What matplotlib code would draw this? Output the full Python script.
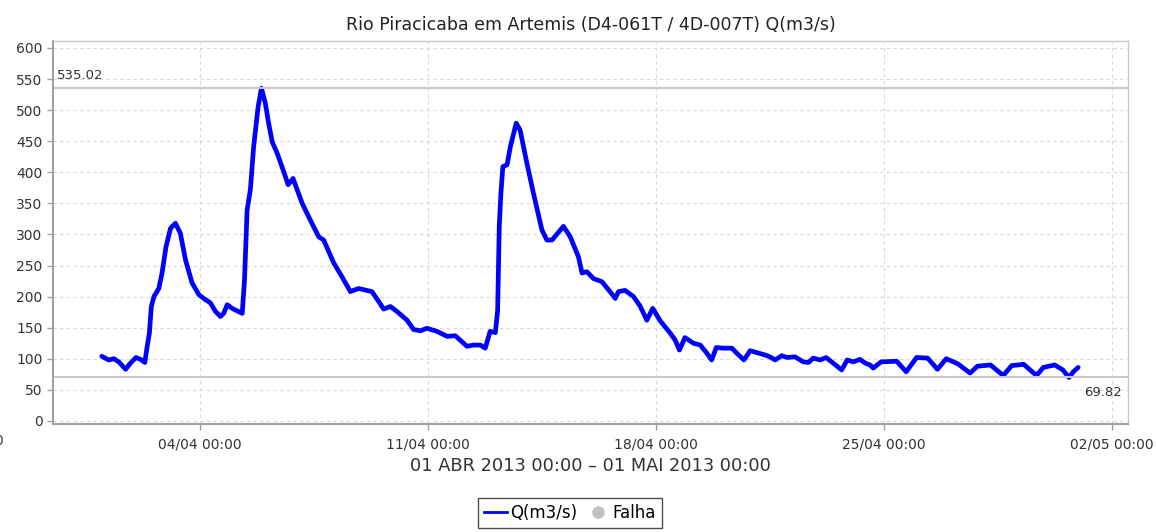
import pandas as pd
import matplotlib.pyplot as plt
import matplotlib.dates as mdates
from matplotlib.lines import Line2D

# Vazão horária - Rio Piracicaba em Artemis, abril de 2013
# dias decorridos desde 01/04/2013 00:00 e vazão em m3/s
dias = [0.0, 0.21, 0.37, 0.52, 0.73, 0.88, 1.05, 1.19, 1.32, 1.39, 1.46, 1.52,
        1.6, 1.75, 1.85, 1.97, 2.11, 2.26, 2.41, 2.57, 2.77, 2.98, 3.18, 3.33,
        3.49, 3.64, 3.74, 3.85, 4.0, 4.31,
        4.38, 4.46, 4.56, 4.66, 4.8, 4.9, 5.02, 5.12, 5.23, 5.38, 5.53, 5.72,
        5.87, 6.15, 6.4, 6.66, 6.81, 7.12, 7.37, 7.63, 7.88, 8.29, 8.5, 8.65,
        8.86, 9.06, 9.37, 9.57, 9.78, 9.98, 10.29, 10.6, 10.85, 11.21, 11.41,
        11.62, 11.77, 11.92, 12.08, 12.15, 12.2, 12.25, 12.31, 12.44, 12.54,
        12.72, 12.84, 13.05, 13.25, 13.51, 13.66, 13.82, 14.17, 14.38, 14.63,
        14.74, 14.89, 15.09, 15.35, 15.6, 15.76, 15.86, 16.06, 16.32, 16.52,
        16.73, 16.91, 17.14, 17.45, 17.6, 17.73, 17.9, 18.16, 18.37, 18.57,
        18.72, 18.86, 19.08, 19.34, 19.49, 19.71, 19.9, 20.1, 20.36, 20.51,
        20.67, 20.87, 21.03, 21.28, 21.53, 21.69, 21.84, 22.05, 22.23, 22.45,
        22.71, 22.88, 23.07, 23.27, 23.43, 23.58, 23.68, 23.92, 24.4, 24.69,
        25.01, 25.35, 25.65, 25.92, 26.27, 26.65, 26.88, 27.28, 27.67, 27.93,
        28.3, 28.69, 28.9, 29.25, 29.5, 29.69, 29.82, 29.97]
vazao = [104, 98, 100, 95, 83, 93, 102, 99, 94, 119, 141, 184,
         200, 213, 238, 280, 310, 318, 302, 259, 222, 203, 195, 190,
         176, 168, 173, 187, 181, 173,
         227, 339, 372, 441, 506, 535.02, 511, 479, 449, 431, 409, 380,
         390, 350, 323, 296, 291, 254, 232, 208, 213, 208, 192, 180,
         184, 176, 162, 147, 145, 149, 144, 136, 137, 120, 122,
         122, 117, 144, 142, 178, 313, 366, 409, 412, 441,
         479, 468, 414, 366, 307, 291, 291, 313, 296, 264,
         238, 240, 229, 224, 208, 197, 208, 210, 200, 185,
         162, 181, 161, 141, 130, 114, 134, 125, 122, 109,
         98, 118, 117, 117, 109, 98, 113, 110, 106, 103,
         98, 105, 102, 103, 95, 94, 101, 98, 102, 93,
         82, 98, 95, 99, 93, 90, 85, 95, 96, 79,
         102, 101, 83, 100, 92, 77, 88, 90, 73, 89,
         91, 73, 86, 90, 82, 69.82, 79, 86]

# trecho sem leitura (falha) entre os dois primeiros picos
falha_dias = [4.31, 4.35, 4.38]
falha_vazao = [173, 195, 227]

q_max = 535.02
q_min = 69.82

inicio = pd.Timestamp("2013-04-01 00:00")
fim = pd.Timestamp("2013-05-01 00:00")
t = inicio + pd.to_timedelta(dias, unit="D")
t_falha = inicio + pd.to_timedelta(falha_dias, unit="D")
tiques = pd.date_range("2013-04-04", periods=5, freq="7D")

plt.rcParams["font.family"] = ["DejaVu Sans"]

fig = plt.figure(figsize=(11.56, 5.32), dpi=100)
ax = fig.add_axes([0.0458, 0.203, 0.930, 0.7197])

ax.plot(t_falha, falha_vazao, color="#c0c0c0", lw=2.4, solid_capstyle="round")
ax.plot(t, vazao, color="#0000ff", lw=3.4, solid_joinstyle="round",
        solid_capstyle="round")

# linhas de máximo e mínimo
ax.axhline(q_max, color="#c8c8c8", lw=1.5)
ax.axhline(q_min, color="#c8c8c8", lw=1.5)
ax.text(0.004, q_max + 11, f"{q_max:.2f}", transform=ax.get_yaxis_transform(),
        ha="left", va="bottom", fontsize=9.5, color="#333333")
ax.text(0.994, q_min - 13, f"{q_min:.2f}", transform=ax.get_yaxis_transform(),
        ha="right", va="top", fontsize=9.5, color="#333333")

pad = (fim - inicio) * 0.05
ax.set_xlim(inicio - pad, fim + pad)
ax.set_ylim(-5, 611)
ax.set_yticks(range(0, 601, 50))
ax.set_xticks(tiques)
ax.xaxis.set_major_formatter(mdates.DateFormatter("%d/%m %H:%M"))

ax.grid(True, color="#d8d8d8", linestyle=(0, (3, 3)), lw=0.8)
ax.set_axisbelow(True)
for lado in ["top", "right"]:
    ax.spines[lado].set_color("#c8c8c8")
    ax.spines[lado].set_linewidth(1.0)
for lado in ["left", "bottom"]:
    ax.spines[lado].set_color("#a0a0a0")
    ax.spines[lado].set_linewidth(1.5)
ax.tick_params(axis="both", labelsize=10, colors="#a0a0a0", labelcolor="#333333",
               length=4, width=1)
ax.tick_params(axis="x", pad=6)

ax.set_title("Rio Piracicaba em Artemis (D4-061T / 4D-007T) Q(m3/s)",
             fontsize=12.5, color="#222222", pad=8)
ax.set_xlabel("01 ABR 2013 00:00 – 01 MAI 2013 00:00", fontsize=12.8,
              color="#333333", labelpad=4)

# rótulo do tique de 28/03, cortado na borda esquerda
fig.text(-0.033, 1 - 441 / 532, "28/03 00:00", ha="center", va="center",
         fontsize=10, color="#333333")

handles = [Line2D([0], [0], color="#0000ff", lw=2),
           Line2D([0], [0], color="#c0c0c0", marker="o", lw=0, markersize=8)]
leg = fig.legend(handles, ["Q(m3/s)", "Falha"], loc="upper center",
                 bbox_to_anchor=(0.493, 1 - 498 / 532), ncol=2, fontsize=12,
                 frameon=True, fancybox=False, handlelength=1.4,
                 handletextpad=0.2, columnspacing=0.5, borderpad=0.35,
                 borderaxespad=0)
leg.get_frame().set_edgecolor("#222222")
leg.get_frame().set_linewidth(1.0)

fig.savefig("out.png", dpi=100)
